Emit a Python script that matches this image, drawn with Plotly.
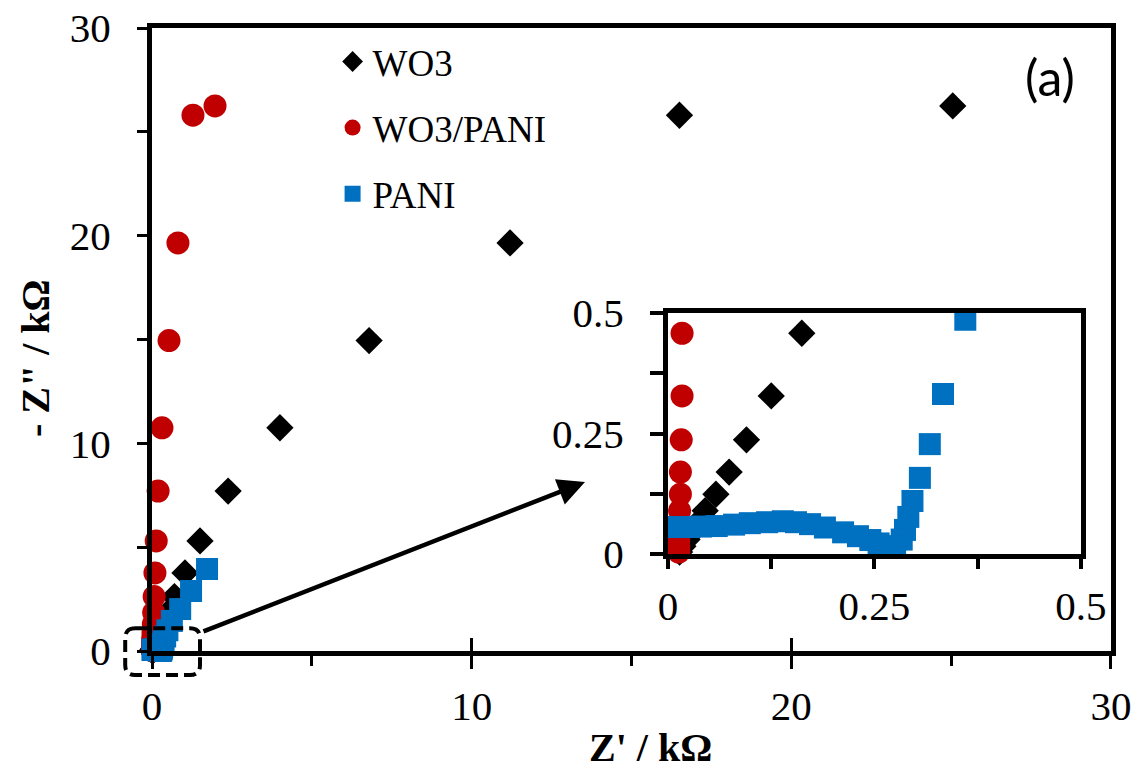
import plotly.graph_objects as go

# ---------------- data (kOhm) ----------------
wo3_x = [25.05, 16.5, 11.2, 6.79, 4.0, 2.38, 1.5, 1.03, 0.70, 0.50, 0.36, 0.27, 0.21,
         0.162, 0.125, 0.095, 0.074, 0.058, 0.045, 0.036, 0.029, 0.023, 0.018, 0.014]
wo3_y = [26.25, 25.8, 19.65, 14.95, 10.75, 7.7, 5.3, 3.76, 2.62, 1.85, 1.3, 0.9, 0.65,
         0.458, 0.328, 0.237, 0.170, 0.124, 0.09, 0.065, 0.045, 0.03, 0.016, 0.004]

wp_x = [1.97, 1.28, 0.81, 0.53, 0.31, 0.19, 0.13, 0.09, 0.065, 0.05, 0.04, 0.03, 0.022,
        0.017, 0.017, 0.016, 0.015, 0.015, 0.014, 0.014, 0.013, 0.013, 0.013, 0.013]
wp_y = [26.25, 25.8, 19.65, 14.95, 10.75, 7.7, 5.3, 3.76, 2.62, 1.85, 1.3, 0.9, 0.65,
        0.458, 0.328, 0.237, 0.170, 0.124, 0.09, 0.065, 0.045, 0.03, 0.016, 0.004]

pani_x = [1.72, 1.22, 0.88, 0.62, 0.48, 0.41, 0.36, 0.333, 0.317, 0.305, 0.296, 0.291,
          0.287, 0.283, 0.275, 0.265, 0.255, 0.245, 0.23, 0.212, 0.19, 0.172, 0.155,
          0.139, 0.12, 0.099, 0.08, 0.059, 0.04, 0.025, 0.013]
pani_y = [3.95, 2.89, 2.02, 1.45, 1.0, 0.7, 0.486, 0.332, 0.228, 0.158, 0.11, 0.077,
          0.05, 0.03, 0.016, 0.016, 0.022, 0.029, 0.037, 0.045, 0.055, 0.062, 0.066,
          0.068, 0.066, 0.064, 0.061, 0.058, 0.057, 0.056, 0.056]

main_ticks = [0, 10, 20, 30]
main_minor = [5, 15, 25]
inset_ticks = [0, 0.125, 0.25, 0.375, 0.5]
inset_labels = ["0", "", "0.25", "", "0.5"]

names = ["WO3", "WO3/PANI", "PANI"]
colors = ["#000000", "#C00000", "#0070C0"]
symbols = ["diamond", "circle", "square"]
sizes = [21, 23, 22]

SERIF = "Liberation Serif"
XDOM = [0.1335, 0.9754]
YDOM = [0.1589, 0.9638]
XR = [0, 30]
YR = [0, 30]


def px(v):
    return XDOM[0] + (v - XR[0]) / (XR[1] - XR[0]) * (XDOM[1] - XDOM[0])


def py(v):
    return YDOM[0] + (v - YR[0]) / (YR[1] - YR[0]) * (YDOM[1] - YDOM[0])


fig = go.Figure()
series = [(wo3_x, wo3_y), (wp_x, wp_y), (pani_x, pani_y)]
for (xs, ys), n, c, s, sz in zip(series, names, colors, symbols, sizes):
    fig.add_trace(go.Scatter(x=xs, y=ys, mode="markers", name=n, cliponaxis=False,
                             marker=dict(color=c, symbol=s, size=sz, line=dict(width=0)),
                             xaxis="x", yaxis="y", legendgroup=n))
for (xs, ys), n, c, s, sz in zip(series, names, colors, symbols, sizes):
    pts = [(a, b) for a, b in zip(xs, ys) if a <= 0.5 and b <= 0.5]
    fig.add_trace(go.Scatter(x=[p[0] for p in pts], y=[p[1] for p in pts], mode="markers",
                             name=n, showlegend=False, cliponaxis=False,
                             marker=dict(color=c, symbol=s, size=sz, line=dict(width=0)),
                             xaxis="x2", yaxis="y2"))
# helper trace for the inner half of the crossing major ticks
fig.add_trace(go.Scatter(x=[None], y=[None], xaxis="x3", yaxis="y", showlegend=False,
                         hoverinfo="skip"))

tickfont = dict(family=SERIF, size=41, color="black")
titlefont = dict(family=SERIF, size=40, color="black", weight="bold")

fig.update_layout(
    width=1139, height=774, margin=dict(l=0, r=0, t=0, b=0),
    paper_bgcolor="white", plot_bgcolor="white",
    xaxis=dict(domain=XDOM, range=XR, tickvals=main_ticks, automargin=False,
               ticks="outside", ticklen=13, tickwidth=3, tickcolor="black",
               minor=dict(tickvals=main_minor, ticks="outside", ticklen=10, tickwidth=3,
                          tickcolor="black", showgrid=False),
               showline=True, linewidth=5, linecolor="black", mirror=True,
               showgrid=False, zeroline=False, tickfont=tickfont,
               ticklabelstandoff=2, anchor="y"),
    yaxis=dict(domain=YDOM, range=YR, tickvals=main_ticks, automargin=False,
               ticks="outside", ticklen=10, tickwidth=3, tickcolor="black",
               minor=dict(tickvals=main_minor, ticks="outside", ticklen=10, tickwidth=3,
                          tickcolor="black", showgrid=False),
               showline=True, linewidth=5, linecolor="black", mirror=True,
               showgrid=False, zeroline=False, tickfont=tickfont,
               ticklabelstandoff=18, anchor="x"),
    xaxis3=dict(overlaying="x", range=XR, tickvals=[10, 20], ticks="inside",
                ticklen=13, tickwidth=3, tickcolor="black", showticklabels=False,
                showline=False, showgrid=False, zeroline=False, anchor="y",
                automargin=False),
    xaxis2=dict(domain=[0.5865, 0.949], range=[0, 0.5], tickvals=inset_ticks,
                ticktext=inset_labels, ticks="outside", ticklen=10, tickwidth=4,
                tickcolor="black", showline=True, linewidth=5, linecolor="black",
                mirror=True, showgrid=False, zeroline=False, tickfont=tickfont,
                ticklabelstandoff=2, anchor="y2", automargin=False),
    yaxis2=dict(domain=[0.2842, 0.5956], range=[0, 0.5], tickvals=inset_ticks,
                ticktext=inset_labels, ticks="outside", ticklen=13, tickwidth=4,
                tickcolor="black", showline=True, linewidth=5, linecolor="black",
                mirror=True, showgrid=False, zeroline=False, tickfont=tickfont,
                ticklabelstandoff=18, anchor="x2", automargin=False),
    legend=dict(x=0.292, y=0.960, xanchor="left", yanchor="top",
                font=dict(family=SERIF, size=37, color="black"),
                bgcolor="rgba(0,0,0,0)", tracegroupgap=15, itemsizing="trace"),
    showlegend=True,
)

# axis titles
fig.add_annotation(xref="paper", yref="paper", x=650 / 1139, y=1 - 747 / 774,
                   xanchor="center", yanchor="middle", text="Z' / kΩ",
                   showarrow=False, font=titlefont)
fig.add_annotation(xref="paper", yref="paper", x=35 / 1139, y=1 - 358 / 774,
                   xanchor="center", yanchor="middle", text='- Z" / kΩ', textangle=-90,
                   showarrow=False, font=titlefont)

# arrow from the zoom box to the inset
fig.add_annotation(xref="paper", yref="paper", x=585 / 1139, y=1 - 482 / 774,
                   ax=-383, ay=150, text="", showarrow=True, arrowhead=2,
                   arrowsize=1.2, arrowwidth=4.5, arrowcolor="black")
# panel label
fig.add_annotation(xref="paper", yref="paper", x=1050 / 1139, y=1 - 77 / 774,
                   xanchor="center", yanchor="middle", text="(a)",
                   showarrow=False, font=dict(family="Lato", size=50, color="black"))

# dashed rounded zoom box around the origin (paper coords computed from data units)
x0, x1, y0, y1 = px(-0.84), px(1.5), py(-1.16), py(1.1)
rx, ry = 10 / 1139, 10 / 774
path = (f"M{x0+rx},{y1} L{x1-rx},{y1} Q{x1},{y1} {x1},{y1-ry} L{x1},{y0+ry} "
        f"Q{x1},{y0} {x1-rx},{y0} L{x0+rx},{y0} Q{x0},{y0} {x0},{y0+ry} "
        f"L{x0},{y1-ry} Q{x0},{y1} {x0+rx},{y1} Z")
fig.add_shape(type="path", path=path, xref="paper", yref="paper",
              line=dict(color="black", width=4, dash="12px,6px"))

fig.write_html("out.html")
